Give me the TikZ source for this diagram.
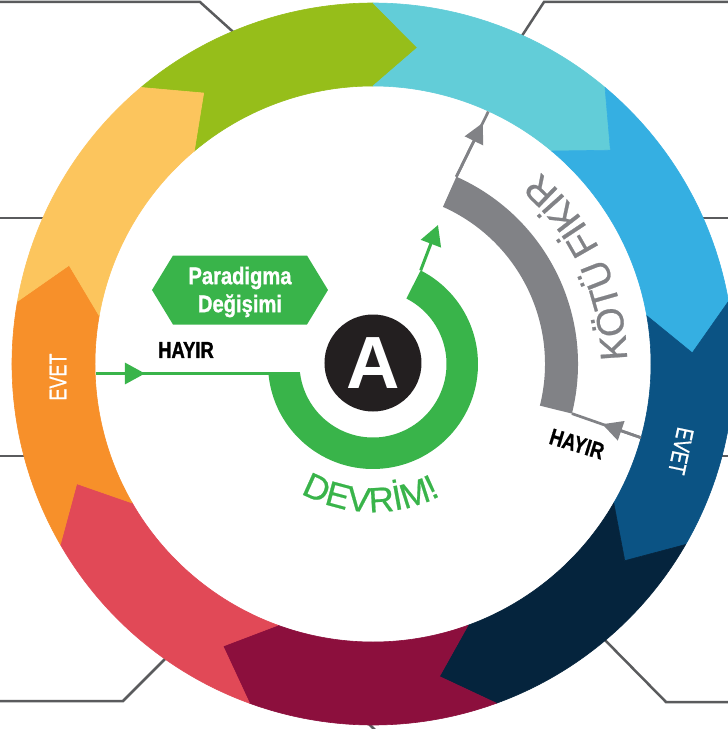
\documentclass[tikz,border=0pt]{standalone}
\usepackage{graphicx}
\usepackage{fontspec}
\setmainfont{Liberation Sans}
\newfontfamily\hv{Liberation Sans}
\newfontfamily\hvm[FakeBold=0.6]{Liberation Sans}
\newfontfamily\hvb[FakeBold=1.0]{Liberation Sans}
\newfontfamily\cndH[FakeStretch=0.8,FakeBold=1.4]{Liberation Sans}
\newfontfamily\cndP[FakeStretch=0.84,FakeBold=1.2]{Liberation Sans}
\usetikzlibrary{arrows.meta,decorations.text,calc}
\definecolor{cLime}{HTML}{96BE1A}
\definecolor{cCyan}{HTML}{62CDD8}
\definecolor{cBlue}{HTML}{35AFE2}
\definecolor{cDBlue}{HTML}{0B5384}
\definecolor{cNavy}{HTML}{05243D}
\definecolor{cMaroon}{HTML}{8C0F3D}
\definecolor{cRed}{HTML}{E14957}
\definecolor{cOrange}{HTML}{F7902A}
\definecolor{cYellow}{HTML}{FCC55D}
\definecolor{cGreen}{HTML}{39B44A}
\definecolor{cGray}{HTML}{818286}
\definecolor{cBlack}{HTML}{231F20}
\definecolor{cLine}{HTML}{5A5B5D}
\def\Ro{361}
\def\Ri{278}
\def\Rm{319.5}
\begin{document}
\begin{tikzpicture}[x=1pt,y=1pt,
  outline/.style={draw=cLine, line width=2.5pt, line join=miter},
  gthin/.style={draw=cGray, line width=2.7pt},
  gnthin/.style={draw=cGreen, line width=3pt},
  gArrow/.style={-{Triangle[length=20pt,width=20pt]}, draw=cGray, line width=2.7pt},
  gnArrow/.style={-{Triangle[length=20pt,width=21pt]}, draw=cGreen, line width=3pt},
  hayir/.style={text=black, font=\cndH\bfseries\fontsize{23}{23}\selectfont, inner sep=0pt},
  hayirrot/.style={text=black, font=\hvb\bfseries\fontsize{23}{23}\selectfont, inner sep=0pt},
  evet/.style={text=white, font=\hvb\fontsize{24}{24}\selectfont, inner sep=0pt}
]
\useasboundingbox (-373,-365) rectangle (355,364);
\clip (-373,-365) rectangle (355,364);
\fill[white] (-373,-365) rectangle (355,364);

% outer connector lines
\coordinate (tl0) at (-380,362); \coordinate (tl1) at (-173,362); \coordinate (tl2) at (-132,325);
\draw[outline] (tl0) -- (tl1) -- (tl2);
\coordinate (lu0) at (-380,146); \coordinate (lu1) at (-320,146);
\draw[outline] (lu0) -- (lu1);
\coordinate (ll0) at (-380,-92); \coordinate (ll1) at (-335,-92);
\draw[outline] (ll0) -- (ll1);
\coordinate (bl0) at (-380,-337); \coordinate (bl1) at (-250,-337); \coordinate (bl2) at (-199,-286);
\draw[outline] (bl0) -- (bl1) -- (bl2);
\coordinate (bc0) at (-12,-352); \coordinate (bc1) at (8,-372);
\draw[outline] (bc0) -- (bc1);
\coordinate (br0) at (226,-270); \coordinate (br1) at (293,-338); \coordinate (br2) at (380,-338);
\draw[outline] (br0) -- (br1) -- (br2);
\coordinate (rl0) at (340,-92); \coordinate (rl1) at (380,-92);
\draw[outline] (rl0) -- (rl1);
\coordinate (ru0) at (320,146); \coordinate (ru1) at (380,146);
\draw[outline] (ru0) -- (ru1);
\coordinate (tr0) at (143,319); \coordinate (tr1) at (171,362); \coordinate (tr2) at (380,362);
\draw[outline] (tr0) -- (tr1) -- (tr2);

% ring of arrows
\foreach \s/\c in {130/cLime, 90/cCyan, 50/cBlue, 10/cDBlue, -30/cNavy, -70/cMaroon, -110/cRed, -150/cOrange, -190/cYellow}{
  \fill[\c, draw=\c, line width=0.6pt, line join=round]
    (\s:\Ro) arc[start angle=\s, end angle=\s-40, radius=\Ro]
    -- ({\s-48}:\Rm) -- ({\s-40}:\Ri)
    arc[start angle=\s-40, end angle=\s, radius=\Ri]
    -- ({\s-8}:\Rm) -- cycle;
}

% ring labels
\node[evet, rotate=90] (evetL) at (-315,-13) {\scalebox{0.75}[1]{EVET}};
\node[evet, rotate=-102] (evetR) at (308,-87) {\scalebox{0.75}[1]{EVET}};

% grey band (KOTU FIKIR)
\fill[cGray] (66:205) arc[start angle=66, end angle=-14, radius=205]
  -- (-14:172) arc[start angle=-14, end angle=66, radius=172] -- cycle;
\coordinate (kt0) at (66:205); \coordinate (kt1) at (115.3,252.4);
\coordinate (kttip) at ($(kt0)!0.826!(kt1)$);
\draw[gthin] (kt0) -- (kt1);
\draw[gArrow] (kt0) -- (kttip);
\coordinate (kb0) at (-14:205); \coordinate (kb1) at (268,-73.7);
\coordinate (kbtip) at ($(kb0)!0.44!(kb1)$);
\draw[gthin] (kb0) -- (kb1);
\draw[gArrow] (kb1) -- (kbtip);
\path[decorate, decoration={text along path, text align=center, text color=cGray,
  text={|\hvm\fontsize{38}{38}\selectfont|KÖTÜ FİKİR}}]
  (-40:254) arc[start angle=-40, end angle=90, radius=254];

% green arc
\fill[cGreen] (185:105) arc[start angle=185, end angle=423, radius=105]
  -- (423:73.5) arc[start angle=423, end angle=187, radius=73.5] -- cycle;
\coordinate (gl0) at (-277,-9.5); \coordinate (gl1) at (-73,-9.5); \coordinate (gltip) at (-228,-9.5);
\draw[gnthin] (gl0) -- (gl1);
\draw[gnArrow] (gl0) -- (gltip);
\coordinate (ga0) at (63:105); \coordinate (gatip) at (65,139);
\draw[gnArrow] (ga0) -- (gatip);
\path[decorate, decoration={text along path, text align=center, text color=cGreen,
  text={|\hvm\fontsize{35}{35}\selectfont|DEVRİM!}}]
  (199:148) arc[start angle=199, end angle=339, radius=148];

% labels
\node[hayir] (hayL) at (-187,14) {HAYIR};
\node[hayirrot, rotate=-17] (hayR) at (204,-80) {\scalebox{0.8}[1]{HAYIR}};

% hexagon
\coordinate (hexc) at (-133,74);
\fill[cGreen, shift={(hexc)}] (-88,0) -- (-67,34.5) -- (67,34.5) -- (88,0) -- (67,-34.5) -- (-67,-34.5) -- cycle;
\node[text=white, font=\cndP\bfseries\fontsize{24}{28}\selectfont, align=center, inner sep=0pt] (para) at (-133,72) {Paradigma\\Değişimi};

% A
\node[circle, fill=cBlack, minimum size=97pt, inner sep=0pt, text=white,
  font=\hv\bfseries\fontsize{74}{74}\selectfont] (A) at (0,1) {A};
\end{tikzpicture}
\end{document}
